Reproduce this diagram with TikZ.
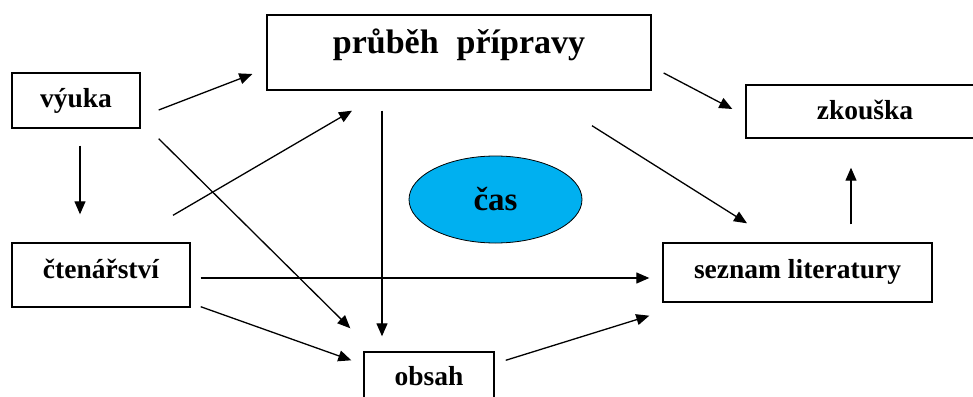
\documentclass[tikz,border=0pt]{standalone}
\usepackage{fontspec}
\setmainfont{Liberation Serif}
\usetikzlibrary{arrows.meta,calc,shapes.geometric}
\definecolor{casblue}{HTML}{00B0F0}
\begin{document}
\begin{tikzpicture}[x=1pt,y=-1pt,
  box/.style={draw, line width=1.4pt, inner sep=0pt, font=\bfseries\fontsize{27.5}{30}\selectfont},
  conn/.style={line width=1.3pt, -{Triangle[length=13pt,width=11pt]}}]
\useasboundingbox (0,0) rectangle (973,396);
% nodes
\node[box, minimum width=128pt, text height=34pt, text depth=21pt] (vyuka) at (76,100.5) {výuka};
\node[box, minimum width=384pt, text height=38pt, text depth=37pt, font=\bfseries\fontsize{34}{38}\selectfont] (prubeh) at (459,52.5) {průběh\hspace{18pt}přípravy};
\node[box, minimum width=238pt, text height=34pt, text depth=19pt] (zkouska) at (865,111.5) {zkouška};
\node[box, minimum width=178pt, text height=35pt, text depth=29pt] (cten) at (101,275) {čtenářství};
\node[box, minimum width=269pt, text height=35pt, text depth=24pt] (seznam) at (797.5,272.5) {seznam literatury};
\node[box, minimum width=130pt, text height=33pt, text depth=20pt] (obsah) at (429,378.5) {obsah};
\node[draw, line width=0.8pt, fill=casblue, ellipse, inner sep=0pt, minimum width=173pt, minimum height=87pt, font=\bfseries\fontsize{33}{36}\selectfont] (cas) at (495.5,199.5) {čas};
% connectors
\draw[conn] ($(vyuka.east)+(18,9.5)$) -- ($(prubeh.west)+(-14,21.5)$);
\draw[conn] ($(cten.north)+(72,-27)$) -- ($(prubeh.south)+(-107,20)$);
\draw[conn] ($(vyuka.south east)+(18,10)$) -- ($(obsah.north west)+(-13,-23)$);
\draw[conn] ($(prubeh.south)+(-77,20)$) -- ($(obsah.north)+(-47,-15)$);
\draw[conn] ($(vyuka.south)+(4,17)$) -- ($(cten.north)+(-21,-28)$);
\draw[conn] ($(cten.east)+(10,3)$) -- ($(seznam.west)+(-13,5.5)$);
\draw[conn] ($(cten.south east)+(10,-1)$) -- ($(obsah.north west)+(-12,9)$);
\draw[conn] ($(obsah.north east)+(11,9)$) -- ($(seznam.south west)+(-13,13)$);
\draw[conn] ($(prubeh.south)+(133,35)$) -- ($(seznam.north)+(-50.5,-19)$);
\draw[conn] ($(prubeh.east)+(12,20.5)$) -- ($(zkouska.west)+(-13,-2.5)$);
\draw[conn] ($(seznam.north)+(53.5,-18)$) -- ($(zkouska.south)+(-14,29)$);
\end{tikzpicture}
\end{document}
